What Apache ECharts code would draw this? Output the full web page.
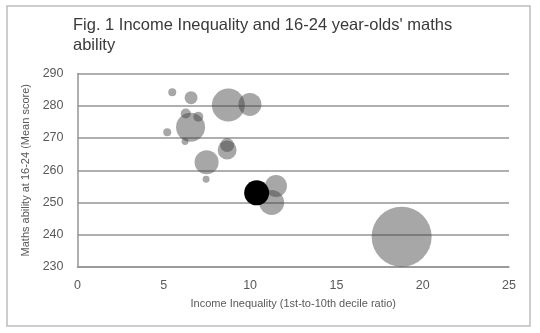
<!DOCTYPE html>
<html>
<head>
<meta charset="utf-8">
<script src="https://cdn.jsdelivr.net/npm/echarts@6/dist/echarts.min.js"></script>
<style>html,body{margin:0;padding:0;background:#fff}#c{width:540px;height:333px}</style>
</head>
<body>
<div id="c"></div>
<script>
// Income inequality (1st-to-10th decile ratio)
var inequality = [5.49, 6.58, 8.74, 9.99, 6.27, 7.0, 6.55, 5.2, 6.23, 8.67, 8.67, 7.48, 7.45, 11.5, 11.25, 18.78];
// Maths ability at 16-24 (mean score)
var mathsScore = [284.2, 282.5, 280.2, 280.4, 277.6, 276.6, 273.3, 271.8, 268.9, 267.8, 266.3, 262.5, 257.2, 255.1, 250.0, 239.4];
// Bubble magnitude (area-like value)
var bubbleValue = [16, 42, 272, 132, 25, 25, 210, 16, 12, 49, 90, 144, 12, 121, 156, 900];
// Highlighted country
var highlightInequality = [10.38];
var highlightScore = [253.0];
var highlightValue = [156];

var xTicks = [0, 5, 10, 15, 20, 25];
var yTicks = [230, 240, 250, 260, 270, 280, 290];

var others = inequality.map(function (x, i) { return [x, mathsScore[i], bubbleValue[i]]; });
var highlight = highlightInequality.map(function (x, i) { return [x, highlightScore[i], highlightValue[i]]; });

function sizeFn(d) { return 2 * Math.sqrt(d[2]); }

var chart = echarts.init(document.getElementById('c'), null, { renderer: 'canvas' });
var font = '"Liberation Sans", Arial, sans-serif';
chart.setOption({
  animation: false,
  textStyle: { fontFamily: font },
  graphic: [{
    type: 'rect',
    shape: { x: 7, y: 6, width: 523, height: 320 },
    style: { fill: 'none', stroke: '#bdbdbd', lineWidth: 1.5 },
    z: -1
  }],
  title: {
    text: "Fig. 1 Income Inequality and 16-24 year-olds' maths\nability",
    left: 68, top: 10,
    textStyle: { fontFamily: font, fontSize: 16.5, fontWeight: 'normal', color: '#3a3a3a', lineHeight: 20 }
  },
  grid: { left: 77.5, right: 31, top: 73.5, bottom: 66 },
  xAxis: {
    type: 'value', min: xTicks[0], max: xTicks[xTicks.length - 1], interval: 5,
    name: 'Income Inequality (1st-to-10th decile ratio)',
    nameLocation: 'middle', nameGap: 31,
    nameTextStyle: { fontFamily: font, fontSize: 11, color: '#595959' },
    axisLine: { show: true, lineStyle: { color: '#959595', width: 1.5 } },
    axisTick: { show: false },
    splitLine: { show: false },
    axisLabel: { fontFamily: font, fontSize: 12.5, color: '#595959', margin: 12 }
  },
  yAxis: {
    type: 'value', min: yTicks[0], max: yTicks[yTicks.length - 1], interval: 10,
    name: 'Maths ability at 16-24 (Mean score)',
    nameLocation: 'middle', nameGap: 32,
    nameTextStyle: { fontFamily: font, fontSize: 11, color: '#595959' },
    axisLine: { show: true, lineStyle: { color: '#959595', width: 1.5 } },
    axisTick: { show: false },
    splitLine: { show: true, lineStyle: { color: '#959595', width: 1.5 } },
    axisLabel: { fontFamily: font, fontSize: 12.5, color: '#595959', margin: 14 }
  },
  series: [{
    type: 'scatter',
    data: others,
    symbolSize: sizeFn,
    itemStyle: { color: 'rgba(60,60,60,0.45)', opacity: 1 },
    z: 2
  }, {
    type: 'scatter',
    data: highlight,
    symbolSize: sizeFn,
    itemStyle: { color: '#000', opacity: 1 },
    z: 3
  }]
});
</script>
</body>
</html>
